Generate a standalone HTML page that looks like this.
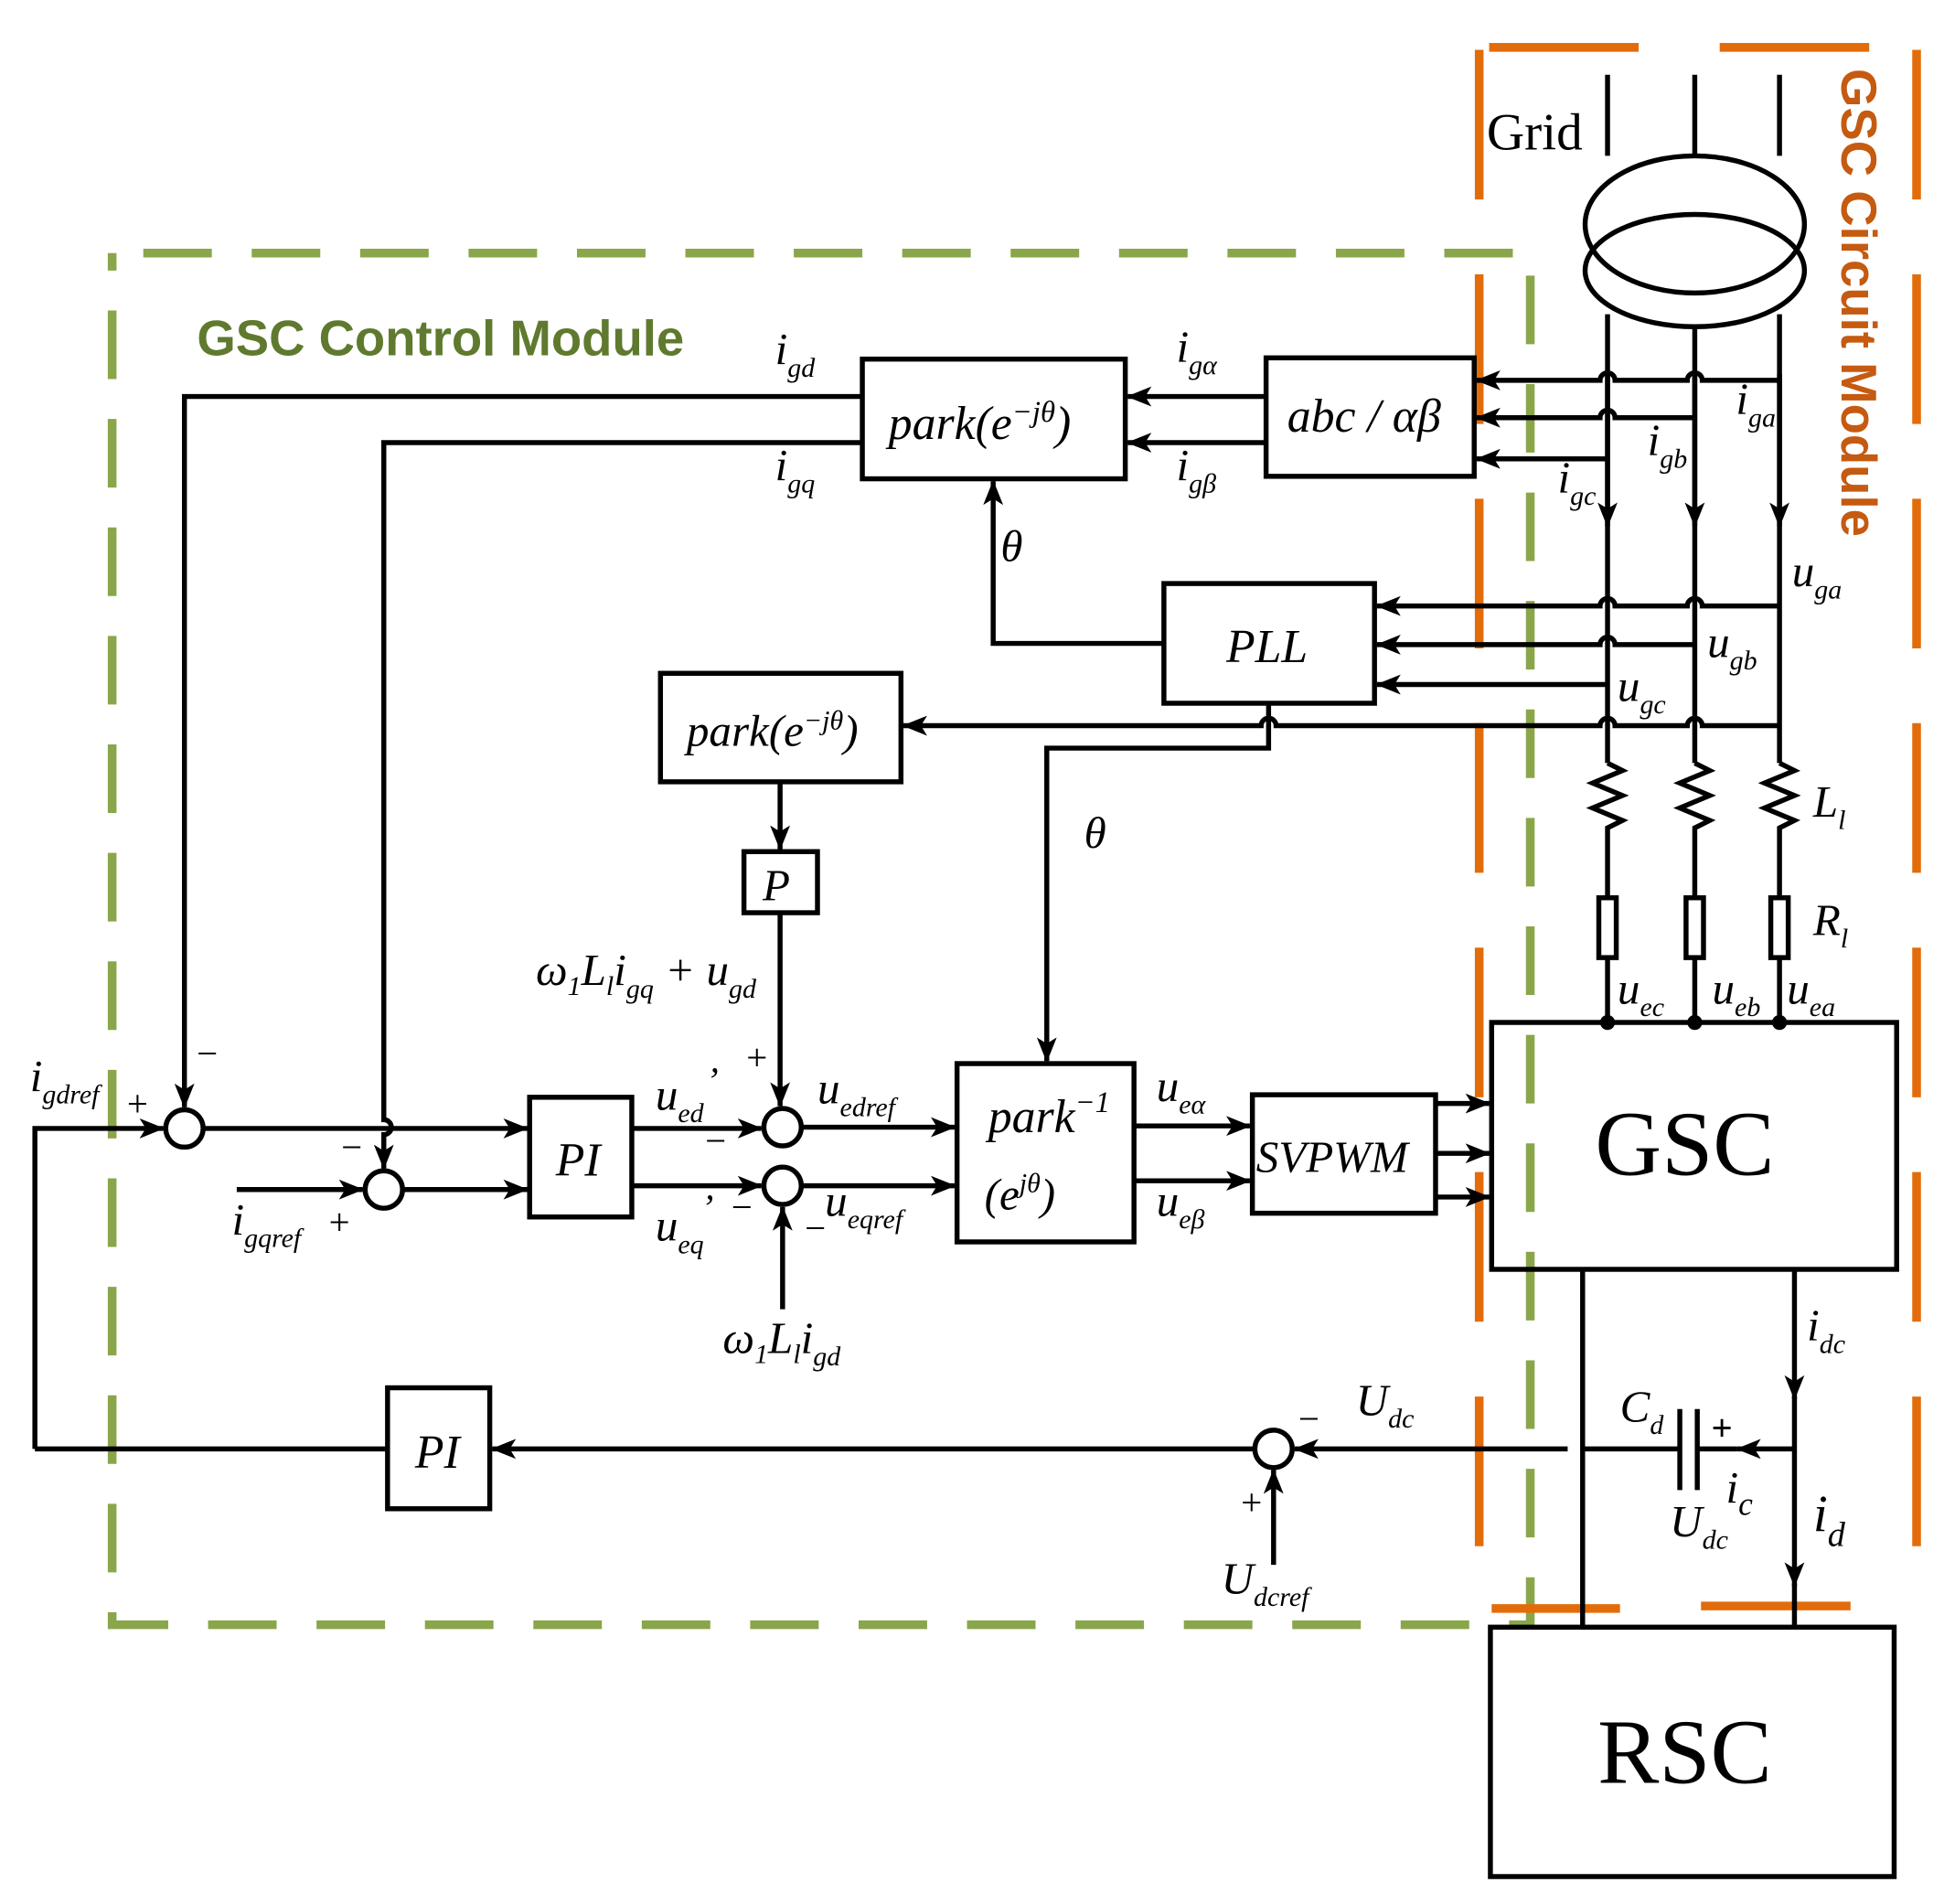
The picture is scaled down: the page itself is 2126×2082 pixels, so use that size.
<!DOCTYPE html>
<html><head><meta charset="utf-8"><style>
html,body{margin:0;padding:0;background:#fff}
svg{display:block}
text{font-family:"Liberation Serif",serif;font-style:italic;fill:#000}
</style></head><body>
<svg width="2126" height="2082" viewBox="0 0 1560 1527" preserveAspectRatio="none" xmlns="http://www.w3.org/2000/svg">
<defs>
<marker id="ar" viewBox="0 0 20 16" refX="19" refY="8" markerWidth="22" markerHeight="16" orient="auto" markerUnits="userSpaceOnUse">
<path d="M0,0 L20,8 L0,16 L5,8 Z" fill="#000"/>
</marker>
</defs>
<rect width="1560" height="1527" fill="#fff"/>

<g stroke="#8aa64a" stroke-width="7" fill="none" stroke-dasharray="55,32">
<path d="M115,203 H1228 V1303 H90 V203"/>
</g>
<g stroke="#e36c0a" stroke-width="7" fill="none">
<path d="M1195,38 H1500" stroke-dasharray="120,65"/>
<path d="M1538,40 V1290" stroke-dasharray="120,60"/>
<path d="M1187,40 V1290 H1300 M1365,1288 H1490" stroke-dasharray="120,60"/>
</g>
<text x="158" y="285" style="font-family:'Liberation Sans',sans-serif;font-style:normal;font-weight:bold;font-size:40px;fill:#5f7a2e">GSC Control Module</text>
<text transform="translate(1478,55) rotate(90)" style="font-family:'Liberation Sans',sans-serif;font-style:normal;font-weight:bold;font-size:40px;fill:#c55a11">GSC Circuit Module</text>
<text x="1193" y="120" style="font-style:normal;font-size:42px">Grid</text>

<g stroke="#000" stroke-width="4" fill="none">
<ellipse cx="1360" cy="180" rx="88" ry="55"/>
<ellipse cx="1360" cy="217" rx="88" ry="45"/>
<path d="M1290,60 V125 M1360,60 V125 M1428,60 V125"/>
<path d="M1290,252 V612 M1360,262 V612 M1428,252 V612"/>
<path d="M1290,300 V422" marker-end="url(#ar)"/><path d="M1360,300 V422" marker-end="url(#ar)"/><path d="M1428,300 V422" marker-end="url(#ar)"/>
<path d="M1290,612 l12,6 l-24,10 l24,10 l-24,10 l24,10 l-12,6 V720"/>
<path d="M1360,612 l12,6 l-24,10 l24,10 l-24,10 l24,10 l-12,6 V720"/>
<path d="M1428,612 l12,6 l-24,10 l24,10 l-24,10 l24,10 l-12,6 V720"/>
<rect x="1283" y="720" width="14" height="48"/><rect x="1353" y="720" width="14" height="48"/><rect x="1421" y="720" width="14" height="48"/>
<path d="M1290,768 V820 M1360,768 V820 M1428,768 V820"/>

<rect x="692" y="288" width="211" height="96"/>
<rect x="1016" y="287" width="167" height="95"/>
<rect x="934" y="468" width="169" height="96"/>
<rect x="530" y="540" width="193" height="87"/>
<rect x="597" y="683" width="59" height="49"/>
<rect x="768" y="853" width="142" height="143"/>
<rect x="1005" y="878" width="147" height="95"/>
<rect x="1197" y="820" width="325" height="198"/>
<rect x="1196" y="1305" width="324" height="200"/>
<rect x="425" y="880" width="82" height="96"/>
<rect x="311" y="1113" width="82" height="97"/>
<circle cx="148" cy="905" r="15"/><circle cx="308" cy="954" r="15"/>
<circle cx="628" cy="904" r="15"/><circle cx="628" cy="951" r="15"/>
<circle cx="1022" cy="1162" r="15"/>

<path d="M1428,305 H1366 a6,6 0 0 0 -12,0 H1296 a6,6 0 0 0 -12,0 H1185" marker-end="url(#ar)"/>
<path d="M1360,335 H1296 a6,6 0 0 0 -12,0 H1185" marker-end="url(#ar)"/>
<path d="M1290,368 H1185" marker-end="url(#ar)"/>
<path d="M1428,486 H1366 a6,6 0 0 0 -12,0 H1296 a6,6 0 0 0 -12,0 H1105" marker-end="url(#ar)"/>
<path d="M1360,517 H1296 a6,6 0 0 0 -12,0 H1105" marker-end="url(#ar)"/>
<path d="M1290,549 H1105" marker-end="url(#ar)"/>
<path d="M1428,582 H1366 a6,6 0 0 0 -12,0 H1296 a6,6 0 0 0 -12,0 H1024 a6,6 0 0 0 -12,0 H725" marker-end="url(#ar)"/>

<path d="M1016,318 H905" marker-end="url(#ar)"/>
<path d="M1016,355 H905" marker-end="url(#ar)"/>
<path d="M692,318 H148 V888" marker-end="url(#ar)"/>
<path d="M692,355 H308 V898 a6,6 0 0 1 0,12 V937" marker-end="url(#ar)"/>
<path d="M934,516 H797 V386" marker-end="url(#ar)"/>
<path d="M1018,564 V600 H840 V851" marker-end="url(#ar)"/>
<path d="M626,627 V681" marker-end="url(#ar)"/>
<path d="M626,732 V887" marker-end="url(#ar)"/>
<path d="M163,905 H423" marker-end="url(#ar)"/>
<path d="M28,1162 V905 H131" marker-end="url(#ar)"/>
<path d="M190,954 H291" marker-end="url(#ar)"/>
<path d="M323,954 H423" marker-end="url(#ar)"/>
<path d="M507,905 H611" marker-end="url(#ar)"/>
<path d="M507,951 H611" marker-end="url(#ar)"/>
<path d="M643,904 H766" marker-end="url(#ar)"/>
<path d="M643,951 H766" marker-end="url(#ar)"/>
<path d="M628,1050 V968" marker-end="url(#ar)"/>
<path d="M910,903 H1003" marker-end="url(#ar)"/>
<path d="M910,947 H1003" marker-end="url(#ar)"/>
<path d="M1152,885 H1195" marker-end="url(#ar)"/>
<path d="M1152,925 H1195" marker-end="url(#ar)"/>
<path d="M1152,960 H1195" marker-end="url(#ar)"/>
<path d="M1270,1018 V1305"/>
<path d="M1440,1018 V1122" marker-end="url(#ar)"/>
<path d="M1440,1120 V1272" marker-end="url(#ar)"/>
<path d="M1440,1270 V1305"/>
<path d="M1270,1162 H1348 M1348,1130 V1195 M1362,1130 V1195"/>
<path d="M1440,1162 H1394" marker-end="url(#ar)"/>
<path d="M1394,1162 H1362"/>
<path d="M1258,1162 H1039" marker-end="url(#ar)"/>
<path d="M1007,1162 H395" marker-end="url(#ar)"/>
<path d="M311,1162 H28"/>
<path d="M1022,1255 V1179" marker-end="url(#ar)"/>
</g>
<g fill="#000"><circle cx="1290" cy="820" r="6"/><circle cx="1360" cy="820" r="6"/><circle cx="1428" cy="820" r="6"/></g>

<text x="713" y="352" font-size="38">park(e<tspan dy="-14" font-size="24">−jθ</tspan><tspan dy="14">)</tspan></text>
<text x="1033" y="346" font-size="38">abc / αβ</text>
<text x="984" y="531" font-size="38">PLL</text>
<text x="551" y="598" font-size="36">park(e<tspan dy="-13" font-size="22">−jθ</tspan><tspan dy="13">)</tspan></text>
<text x="612" y="722" font-size="36">P</text>
<text x="793" y="908" font-size="38">park<tspan dy="-16" font-size="24">−1</tspan></text>
<text x="790" y="970" font-size="36">(e<tspan dy="-14" font-size="22">jθ</tspan><tspan dy="14">)</tspan></text>
<text x="1008" y="940" font-size="36">SVPWM</text>
<text x="446" y="943" font-size="38">PI</text>
<text x="333" y="1177" font-size="38">PI</text>
<text x="1280" y="942" font-size="74" style="font-style:normal">GSC</text>
<text x="1282" y="1430" font-size="74" style="font-style:normal">RSC</text>

<g font-size="36">
<text x="622" y="292">i<tspan dy="10" font-size="22">gd</tspan></text>
<text x="622" y="385">i<tspan dy="10" font-size="22">gq</tspan></text>
<text x="944" y="290">i<tspan dy="10" font-size="22">gα</tspan></text>
<text x="944" y="385">i<tspan dy="10" font-size="22">gβ</tspan></text>
<text x="1393" y="332">i<tspan dy="10" font-size="22">ga</tspan></text>
<text x="1322" y="365">i<tspan dy="10" font-size="22">gb</tspan></text>
<text x="1250" y="395">i<tspan dy="10" font-size="22">gc</tspan></text>
<text x="1438" y="470">u<tspan dy="10" font-size="22">ga</tspan></text>
<text x="1370" y="527">u<tspan dy="10" font-size="22">gb</tspan></text>
<text x="1298" y="562">u<tspan dy="10" font-size="22">gc</tspan></text>
<text x="1455" y="655">L<tspan dy="10" font-size="22">l</tspan></text>
<text x="1455" y="750">R<tspan dy="10" font-size="22">l</tspan></text>
<text x="1298" y="805">u<tspan dy="10" font-size="22">ec</tspan></text>
<text x="1374" y="805">u<tspan dy="10" font-size="22">eb</tspan></text>
<text x="1434" y="805">u<tspan dy="10" font-size="22">ea</tspan></text>
<text x="803" y="450">θ</text>
<text x="870" y="680">θ</text>
<text x="430" y="790">ω<tspan dy="8" font-size="22">1</tspan><tspan dy="-8">L</tspan><tspan dy="8" font-size="22">l</tspan><tspan dy="-8">i</tspan><tspan dy="10" font-size="22">gq</tspan><tspan dy="-10"> + u</tspan><tspan dy="10" font-size="22">gd</tspan></text>
<text x="580" y="1085">ω<tspan dy="8" font-size="22">1</tspan><tspan dy="-8">L</tspan><tspan dy="8" font-size="22">l</tspan><tspan dy="-8">i</tspan><tspan dy="10" font-size="22">gd</tspan></text>
<text x="24" y="875">i<tspan dy="10" font-size="22">gdref</tspan></text>
<text x="186" y="990">i<tspan dy="10" font-size="22">gqref</tspan></text>
<text x="526" y="890">u<tspan dy="10" font-size="22">ed</tspan></text>
<text x="526" y="995">u<tspan dy="10" font-size="22">eq</tspan></text>
<text x="656" y="885">u<tspan dy="10" font-size="22">edref</tspan></text>
<text x="662" y="975">u<tspan dy="10" font-size="22">eqref</tspan></text>
<text x="928" y="883">u<tspan dy="10" font-size="22">eα</tspan></text>
<text x="928" y="975">u<tspan dy="10" font-size="22">eβ</tspan></text>
<text x="1450" y="1075">i<tspan dy="10" font-size="22">dc</tspan></text>
<text x="1455" y="1228" font-size="42">i<tspan dy="12" font-size="28">d</tspan></text>
<text x="1385" y="1205">i<tspan dy="10" font-size="26">c</tspan></text>
<text x="1300" y="1140">C<tspan dy="10" font-size="22">d</tspan></text>
<text x="1340" y="1232">U<tspan dy="10" font-size="22">dc</tspan></text>
<text x="1088" y="1135">U<tspan dy="10" font-size="22">dc</tspan></text>
<text x="980" y="1278">U<tspan dy="10" font-size="22">dcref</tspan></text>
</g>
<g font-size="30" style="font-style:normal">
<text x="156" y="855">−</text><text x="100" y="895">+</text>
<text x="272" y="930">−</text><text x="262" y="990">+</text>
<text x="570" y="860">,</text><text x="597" y="858">+</text>
<text x="564" y="925">−</text><text x="566" y="962">,</text><text x="585" y="978">−</text>
<text x="644" y="995">−</text>
<text x="1040" y="1148">−</text><text x="994" y="1215">+</text>
<text x="1373" y="1155" style="font-weight:bold">+</text>
</g>
</svg>
</body></html>
